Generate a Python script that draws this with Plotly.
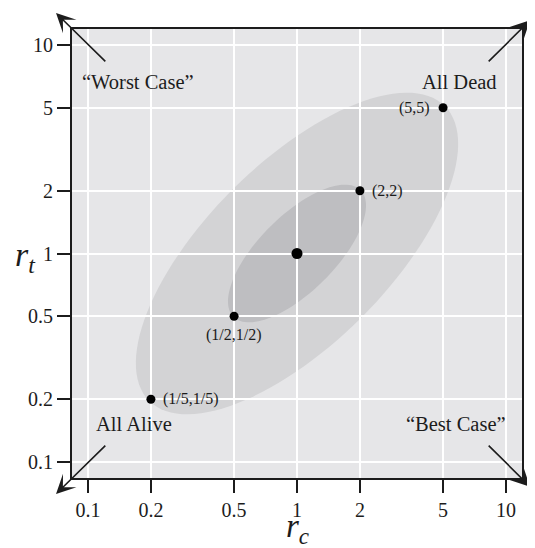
import numpy as np
import plotly.graph_objects as go

# ---- data ----
point_x = [0.2, 0.5, 1.0, 2.0, 5.0]
point_y = [0.2, 0.5, 1.0, 2.0, 5.0]
point_size = [9, 9, 11, 9, 9]
point_labels = ["(1/5,1/5)", "(1/2,1/2)", "", "(2,2)", "(5,5)"]
tick_vals = [0.1, 0.2, 0.5, 1, 2, 5, 10]
tick_text = ["0.1", "0.2", "0.5", "1", "2", "5", "10"]
# ellipses in log10 units
ellipse_center = (0.0, 0.0)
outer_axes = (1.0, 0.435)
inner_axes = (0.43, 0.182)
ellipse_angle = 45
corner_labels = ["\u201cWorst Case\u201d", "All Dead", "All Alive", "\u201cBest Case\u201d"]
corner_label_pos = [(-0.761, 0.823), (0.777, 0.823), (-0.778, -0.818), (0.761, -0.818)]
arrow_tail = [(-0.91, 0.914), (0.91, 0.914), (-0.91, -0.914), (0.91, -0.914)]
arrow_head = [(-1.153, 1.153), (1.115, 1.118), (-1.153, -1.153), (1.115, -1.118)]
axis_range = [-1.0766, 1.0766]

FONT = "Liberation Serif"
INK = "#1c1c1c"


def ellipse_path(cx, cy, a, b, ang, n=120):
    t = np.linspace(0, 2 * np.pi, n, endpoint=False)
    th = np.deg2rad(ang)
    u = a * np.cos(t)
    v = b * np.sin(t)
    lx = cx + u * np.cos(th) - v * np.sin(th)
    ly = cy + u * np.sin(th) + v * np.cos(th)
    xs = 10 ** lx
    ys = 10 ** ly
    p = "M %.6f,%.6f " % (xs[0], ys[0])
    p += " ".join("L %.6f,%.6f" % (x, y) for x, y in zip(xs[1:], ys[1:]))
    return p + " Z"


fig = go.Figure()

fig.add_trace(go.Scatter(
    x=point_x, y=point_y, mode="markers",
    marker=dict(size=point_size, color="black", opacity=1, line=dict(width=0)),
    hoverinfo="skip", showlegend=False,
))

shapes = [
    dict(type="path", xref="x", yref="y", layer="below",
         path=ellipse_path(*ellipse_center, *outer_axes, ellipse_angle),
         fillcolor="#d3d3d5", line=dict(width=0)),
    dict(type="path", xref="x", yref="y", layer="below",
         path=ellipse_path(*ellipse_center, *inner_axes, ellipse_angle),
         fillcolor="#bebec1", line=dict(width=0)),
]

annotations = []
# point labels
label_cfg = [
    dict(xanchor="left", yanchor="middle", xshift=10, yshift=0),
    dict(xanchor="center", yanchor="top", xshift=0, yshift=-8),
    None,
    dict(xanchor="left", yanchor="middle", xshift=10, yshift=0),
    dict(xanchor="right", yanchor="middle", xshift=-11, yshift=0),
]
for px, py, txt, cfg in zip(point_x, point_y, point_labels, label_cfg):
    if cfg is None:
        continue
    annotations.append(dict(x=np.log10(px), y=np.log10(py), xref="x", yref="y",
                            text=txt, showarrow=False,
                            font=dict(family=FONT, size=16, color=INK), **cfg))
# corner labels
for txt, (lx, ly) in zip(corner_labels, corner_label_pos):
    annotations.append(dict(x=lx, y=ly, xref="x", yref="y", text=txt,
                            showarrow=False,
                            font=dict(family=FONT, size=20.5, color=INK)))
# corner arrows
for (tx, ty), (hx, hy) in zip(arrow_tail, arrow_head):
    annotations.append(dict(x=hx, y=hy, ax=tx, ay=ty, xref="x", yref="y",
                            axref="x", ayref="y", text="", showarrow=True,
                            arrowhead=3, arrowsize=2.0, arrowwidth=1.6,
                            arrowcolor=INK, standoff=0, startstandoff=0))
# axis titles
annotations.append(dict(x=0.5, y=-0.112, xref="paper", yref="paper",
                        text="<i>r</i><sub><i>c</i></sub>", showarrow=False,
                        xanchor="center", yanchor="middle",
                        font=dict(family=FONT, size=33, color=INK)))
annotations.append(dict(x=-0.104, y=0.492, xref="paper", yref="paper",
                        text="<i>r</i><sub><i>t</i></sub>", showarrow=False,
                        xanchor="center", yanchor="middle",
                        font=dict(family=FONT, size=34, color=INK)))

axis_common = dict(
    type="log", range=axis_range, tickmode="array",
    tickvals=tick_vals, ticktext=tick_text,
    showgrid=True, gridcolor="white", gridwidth=1.6,
    ticks="outside", ticklen=13, tickwidth=1.6, tickcolor=INK,
    showline=True, linecolor=INK, linewidth=2, mirror=True,
    tickfont=dict(family=FONT, size=20, color=INK),
    zeroline=False, fixedrange=True,
)

# page body has an 8px default margin, so the figure is sized/offset for it
fig.update_layout(
    width=527, height=540,
    margin=dict(l=64, r=13, t=21, b=70),
    paper_bgcolor="white", plot_bgcolor="#e6e6e8",
    xaxis=axis_common, yaxis=axis_common,
    shapes=shapes, annotations=annotations,
    showlegend=False,
)

fig.write_html("out.html")
